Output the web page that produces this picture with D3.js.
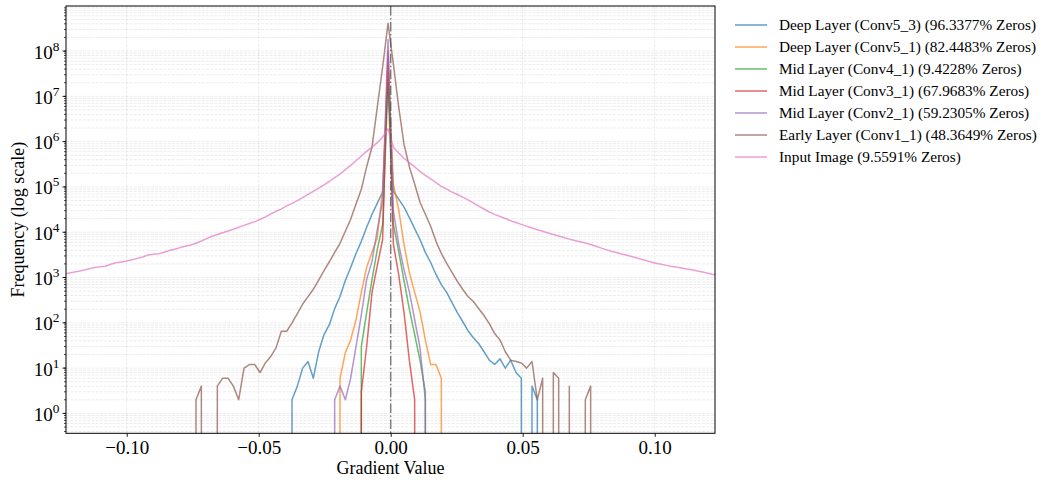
<!DOCTYPE html>
<html>
<head>
<meta charset="utf-8">
<script src="https://cdn.jsdelivr.net/npm/d3@7"></script>
<style>
  body { margin: 0; background: #fff; }
  svg { display: block; }
  text { font-family: "Liberation Serif", "Times New Roman", serif; fill: #000; }
</style>
</head>
<body>
<svg id="chart" width="1044" height="483"></svg>
<script>
// ---- histogram data: every layer shares one bin grid ----
const binWidth = 0.00202;          // gradient units per bin
const zeroBinCenter = -0.00102;    // centre of the bin that holds the exact zeros

const layerNames = [
  "Deep Layer (Conv5_3)",
  "Deep Layer (Conv5_1)",
  "Mid Layer (Conv4_1)",
  "Mid Layer (Conv3_1)",
  "Mid Layer (Conv2_1)",
  "Early Layer (Conv1_1)",
  "Input Image"
];
const zeroPercents = [96.3377, 82.4483, 9.4228, 67.9683, 59.2305, 48.3649, 9.5591];

// first bin index (relative to the zero bin) of each counts array
const firstBins = [-19, -10, -6, -6, -11, -37, -61];

const conv5_3Counts = [0, 2, 4, 10, 14, 6, 23, 55, 91, 206, 380, 860, 1670, 3400, 6300, 12900, 25000, 44000, 77000,
  2.5e7,
  81000, 54000, 36000, 21000, 12000, 6900, 3600, 2150, 1170, 700, 470, 280, 168, 107, 67, 47, 35, 23, 15, 12, 16, 10, 15, 8, 6, 0, 4, 2, 0];

const conv5_1Counts = [0, 6, 22, 42, 118, 470, 1680, 3600, 7700, 90000,
  6e7,
  115000, 32000, 5400, 1300, 470, 177, 42, 12, 12, 6, 0];

const conv4_1Counts = [0, 30, 170, 900, 4200, 15000,
  2e7,
  15000, 3800, 860, 200, 55, 15, 3, 0];

const conv3_1Counts = [0, 3, 30, 470, 1850, 7000,
  1e8,
  5500, 1170, 170, 15, 2, 0];

const conv2_1Counts = [0, 2, 4, 2, 6, 30, 150, 910, 2270, 11600, 50000,
  1.8e8,
  30000, 5500, 1500, 490, 117, 28, 2, 0];

const conv1_1Counts = [0, 2, 4, 0, 0, 4, 6, 6, 4, 2, 10, 12, 12, 8, 13, 18, 28, 65, 65, 100, 160, 260, 380, 550, 880,
  1420, 2230, 3600, 5700, 10500, 19400, 42000, 89000, 280000, 760000, 5.9e6, 4.5e7,
  4.1e8,
  5.3e7, 5.9e6, 870000, 280000, 116000, 46000, 25000, 13600, 6300, 3400, 2050, 1300, 820, 550, 380, 295, 208, 145,
  96, 58, 42, 23, 15, 14, 13, 10, 14, 2, 6, 0, 8, 6, 0, 4, 0, 0, 2, 4, 0];

const inputCounts = [1200, 1240, 1310, 1370, 1470, 1570, 1670, 1720, 1780, 1960, 2110, 2210, 2310, 2480, 2650, 2830,
  3140, 3250, 3350, 3630, 3940, 4230, 4580, 4890, 5230, 5700, 6400, 7250, 8150, 8900, 9730, 10650, 11650, 12850,
  14150, 15600, 17150, 19100, 21900, 25300, 29000, 32900, 38100, 43400, 50000, 58400, 68300, 80000, 94000, 111700,
  132000, 161000, 193000, 242000, 300000, 378000, 483000, 610000, 755000, 950000, 1260000,
  1920000,
  755000, 563000, 430000, 345000, 278000, 221000, 180000, 150000, 125000, 103000, 89700, 77000, 68000, 59600, 52000,
  44400, 37900, 32600, 28000, 24800, 22300, 20100, 18000, 16400, 14900, 13500, 12400, 11400, 10500, 9650, 8900, 8250,
  7650, 7050, 6550, 6150, 5780, 5370, 4890, 4460, 4080, 3750, 3510, 3270, 3060, 2830, 2630, 2440, 2250, 2100, 1990,
  1880, 1780, 1700, 1620, 1550, 1480, 1400, 1320, 1240, 1170, 1110];

const layerCounts = [conv5_3Counts, conv5_1Counts, conv4_1Counts, conv3_1Counts, conv2_1Counts, conv1_1Counts, inputCounts];
const layerColors = ["#1f77b4", "#ff7f0e", "#2ca02c", "#d62728", "#9467bd", "#8c564b", "#e377c2"];

const xTicks = [-0.10, -0.05, 0.00, 0.05, 0.10];
const yMajorExponents = [0, 1, 2, 3, 4, 5, 6, 7, 8];

// ---- layout ----
const plot = { left: 66, right: 715, top: 6, bottom: 433.3 };
const xDomain = [-0.12299, 0.12284];
const yDomain = [Math.pow(10, -0.439), Math.pow(10, 8.995)];

const svg = d3.select("#chart");
const x = d3.scaleLinear().domain(xDomain).range([plot.left, plot.right]);
const y = d3.scaleLog().domain(yDomain).range([plot.bottom, plot.top]);

// empty bins sit far below the axis, so the line drops straight off the bottom
const FLOOR = 1e-300;

svg.append("defs").append("clipPath").attr("id", "plot-clip")
  .append("rect")
  .attr("x", plot.left).attr("y", plot.top)
  .attr("width", plot.right - plot.left).attr("height", plot.bottom - plot.top);

// ---- grid (major + minor, dashed) ----
const grid = svg.append("g").attr("class", "grid");
const minorValues = [];
for (let e = -1; e <= 9; e++) {
  for (let m = 1; m <= 9; m++) {
    const v = m * Math.pow(10, e);
    if (v >= yDomain[0] && v <= yDomain[1]) minorValues.push(v);
  }
}
grid.selectAll("line.h").data(minorValues).enter().append("line")
  .attr("class", "h")
  .attr("x1", plot.left).attr("x2", plot.right)
  .attr("y1", d => y(d)).attr("y2", d => y(d))
  .attr("stroke", "#b0b0b0").attr("stroke-opacity", 0.3)
  .attr("stroke-width", 0.8).attr("stroke-dasharray", "2.96,1.28");
grid.selectAll("line.v").data(xTicks).enter().append("line")
  .attr("class", "v")
  .attr("x1", d => x(d)).attr("x2", d => x(d))
  .attr("y1", plot.top).attr("y2", plot.bottom)
  .attr("stroke", "#b0b0b0").attr("stroke-opacity", 0.3)
  .attr("stroke-width", 0.8).attr("stroke-dasharray", "2.96,1.28");

// ---- histogram lines ----
const lineGen = d3.line()
  .x(d => x(d.g))
  .y(d => y(d.c > 0 ? d.c : FLOOR));

const series = layerCounts.map((counts, i) => counts.map((c, j) => ({
  g: zeroBinCenter + (firstBins[i] + j) * binWidth,
  c: c
})));

const lines = svg.append("g").attr("clip-path", "url(#plot-clip)");
lines.selectAll("path").data(series).enter().append("path")
  .attr("d", lineGen)
  .attr("fill", "none")
  .attr("stroke", (d, i) => layerColors[i])
  .attr("stroke-opacity", 0.7)
  .attr("stroke-width", 1.5)
  .attr("stroke-linejoin", "round");

// zero reference line
lines.append("line")
  .attr("x1", x(0)).attr("x2", x(0))
  .attr("y1", plot.top).attr("y2", plot.bottom)
  .attr("stroke", "#555").attr("stroke-opacity", 0.75)
  .attr("stroke-width", 1.5)
  .attr("stroke-dasharray", "9.6,2.4,1.5,2.4");

// ---- axes ----
const xAxis = d3.axisBottom(x).tickValues(xTicks)
  .tickSize(3.5).tickPadding(4)
  .tickFormat(d => d3.format(".2f")(d).replace("-", "\u2212"));
const gx = svg.append("g").attr("transform", `translate(0,${plot.bottom})`).call(xAxis);
gx.select(".domain").remove();
gx.selectAll(".tick line").attr("stroke", "#000").attr("stroke-width", 0.9);
gx.selectAll(".tick text").attr("font-size", 19).attr("font-family", "Liberation Serif, serif").attr("fill", "#000");

// y axis: major ticks with 10^n labels, minor ticks unlabeled
const gy = svg.append("g");
gy.selectAll("line.minor").data(minorValues).enter().append("line")
  .attr("x1", plot.left - 2).attr("x2", plot.left)
  .attr("y1", d => y(d)).attr("y2", d => y(d))
  .attr("stroke", "#000").attr("stroke-width", 0.7);
const majors = gy.selectAll("g.major").data(yMajorExponents).enter().append("g")
  .attr("transform", e => `translate(0,${y(Math.pow(10, e))})`);
majors.append("line")
  .attr("x1", plot.left - 3.5).attr("x2", plot.left)
  .attr("stroke", "#000").attr("stroke-width", 0.9);
const yLabels = majors.append("text")
  .attr("x", plot.left - 6.5).attr("y", 7.5)
  .attr("text-anchor", "end")
  .attr("font-size", 19);
yLabels.append("tspan").text("10");
yLabels.append("tspan").attr("dy", -8).attr("font-size", 13.3).text(e => e);

// frame
svg.append("rect")
  .attr("x", plot.left).attr("y", plot.top)
  .attr("width", plot.right - plot.left).attr("height", plot.bottom - plot.top)
  .attr("fill", "none").attr("stroke", "#000").attr("stroke-width", 1);

// axis titles
svg.append("text")
  .attr("x", (plot.left + plot.right) / 2).attr("y", 474)
  .attr("text-anchor", "middle").attr("font-size", 18)
  .text("Gradient Value");
svg.append("text")
  .attr("transform", `translate(24,${(plot.top + plot.bottom) / 2}) rotate(-90)`)
  .attr("text-anchor", "middle").attr("font-size", 18)
  .text("Frequency (log scale)");

// ---- legend ----
const legend = svg.append("g").attr("transform", "translate(735,25)");
const rows = legend.selectAll("g").data(layerNames).enter().append("g")
  .attr("transform", (d, i) => `translate(0,${i * 22})`);
rows.append("line")
  .attr("x1", 0).attr("x2", 32)
  .attr("stroke", (d, i) => layerColors[i])
  .attr("stroke-opacity", 0.7).attr("stroke-width", 1.5);
rows.append("text")
  .attr("x", 44).attr("y", 5.2)
  .attr("font-size", 15.3)
  .text((d, i) => `${d} (${zeroPercents[i].toFixed(4)}% Zeros)`);
</script>
</body>
</html>
